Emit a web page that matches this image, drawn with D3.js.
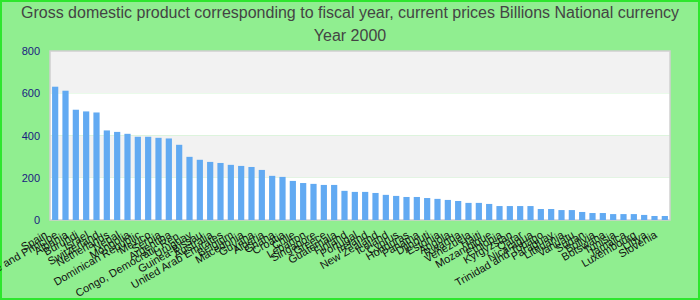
<!DOCTYPE html>
<html><head><meta charset="utf-8">
<script src="https://cdn.jsdelivr.net/npm/d3@7/dist/d3.min.js"></script>
<style>body{margin:0;}svg{display:block;font-family:"Liberation Sans",Arial,sans-serif;}</style>
</head><body><svg id="c" width="700" height="300"></svg>
<script>
const titleLines = ["Gross domestic product corresponding to fiscal year, current prices Billions National currency", "Year 2000"];
const countries = ["Spain","Sao Tome and Principe","Albania","Burundi","Israel","Switzerland","Netherlands","Nepal","Mongolia","Dominican Republic",
"Mexico","Serbia","Argentina","Congo, Democratic Rep.","Uruguay","Guinea-Bissau","Australia","United Arab Emirates","Belgium","Macedonia",
"Guyana","Algeria","Ghana","Croatia","Chile","Lebanon","Singapore","Greece","Guatemala","Finland",
"Portugal","Ireland","New Zealand","Iceland","Cyprus","Honduras","Panama","Djibouti","Estonia","Angola",
"Rwanda","Venezuela","Haiti","Mozambique","Ethiopia","Kyrgyzstan","Qatar","Nicaragua","Trinidad and Tobago","Paraguay",
"Lithuania","Vanuatu","Sudan","Bolivia","Botswana","Tunisia","Jamaica","Luxembourg","Libya","Slovenia"];
const values = [631,612,522,514,509,424,417,408,394,394,
389,386,356,299,285,275,270,261,256,251,
237,209,204,185,175,171,166,166,138,133,
133,128,119,114,109,109,104,100,95,90,
81,81,76,66,66,66,66,52,52,47,
47,38,33,33,28,28,28,24,19,19];
const yTicks = [0,200,400,600,800];

const svg = d3.select("#c");
svg.append("rect").attr("x",1).attr("y",1).attr("width",698).attr("height",298)
  .attr("fill","#90ee90").attr("stroke","#2ee62e").attr("stroke-width",2);

const L=50,R=670,T=51,B=220;
const x = d3.scaleBand().domain(countries).range([L,R]).paddingInner(0.4).paddingOuter(0.2);
const y = d3.scaleLinear().domain([0,800]).range([B,T]);

const bands = [[600,800,"#f2f2f2"],[400,600,"#ffffff"],[200,400,"#f2f2f2"],[0,200,"#ffffff"]];
svg.append("g").selectAll("rect").data(bands).join("rect")
  .attr("x",L).attr("width",R-L).attr("y",d=>y(d[1])).attr("height",d=>y(d[0])-y(d[1]))
  .attr("fill",d=>d[2]);
svg.append("rect").attr("x",L).attr("y",T).attr("width",R-L).attr("height",B-T)
  .attr("fill","none").attr("stroke","#d0d0d0").attr("stroke-width",1.5);

svg.append("g").selectAll("rect").data(values).join("rect")
  .attr("x",(d,i)=>x(countries[i])).attr("width",x.bandwidth())
  .attr("y",d=>y(d)).attr("height",d=>B-y(d)).attr("fill","#62aaf2");

const ya = svg.append("g").attr("transform",`translate(${L-10},0)`)
  .call(d3.axisLeft(y).tickValues(yTicks).tickSize(0).tickPadding(0));
ya.select(".domain").remove();
ya.selectAll("text").attr("fill","#1a1a80").attr("font-size",11).attr("font-family","'Liberation Sans',Arial,sans-serif");

const xa = svg.append("g").attr("transform",`translate(0,${B})`)
  .call(d3.axisBottom(x).tickSize(0).tickPadding(0));
xa.select(".domain").remove();
xa.selectAll(".tick text")
  .attr("fill","#111").attr("font-size",11).attr("font-family","'Liberation Sans',Arial,sans-serif")
  .attr("text-anchor","end").attr("y",0).attr("dy",0)
  .attr("transform","translate(-7,17) rotate(-30)");

svg.append("g").selectAll("text").data(titleLines).join("text")
  .attr("x",350).attr("y",(d,i)=>18+i*23).attr("text-anchor","middle")
  .attr("font-size",16).attr("fill","#444").text(d=>d);
</script></body></html>
